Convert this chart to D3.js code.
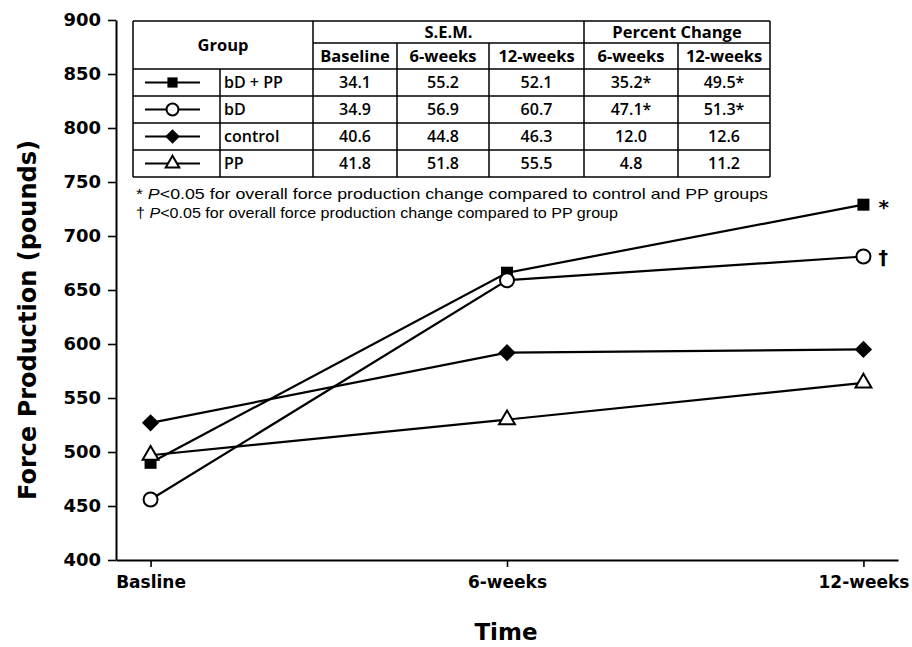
<!DOCTYPE html>
<html>
<head>
<meta charset="utf-8">
<script src="https://cdn.jsdelivr.net/npm/d3@7"></script>
<style>
  body { margin: 0; background: #fff; }
  svg { display: block; }
</style>
</head>
<body>
<svg id="chart" width="912" height="647"></svg>
<script>
//---- Data ---------------------------------------------------------------------------------------
var timepoints = ["Basline", "6-weeks", "12-weeks"];
var groups = ["bD + PP", "bD", "control", "PP"];
var bdpp = [490, 666, 729];
var bd = [456, 659, 681];
var control = [527, 592, 595];
var pp = [497, 530, 564];
var significance = ["*", "\u2020", "", ""];
var yTicks = [400, 450, 500, 550, 600, 650, 700, 750, 800, 850, 900];

// table
var semHeader = "S.E.M.";
var pctHeader = "Percent Change";
var subHeaders = ["Baseline", "6-weeks", "12-weeks", "6-weeks", "12-weeks"];
var semBaseline = ["34.1", "34.9", "40.6", "41.8"];
var sem6 = ["55.2", "56.9", "44.8", "51.8"];
var sem12 = ["52.1", "60.7", "46.3", "55.5"];
var pct6 = ["35.2*", "47.1*", "12.0", "4.8"];
var pct12 = ["49.5*", "51.3*", "12.6", "11.2"];
var footnotes = [
  ["* ", "P", "<0.05 for overall  force production change compared to control and PP groups"],
  ["\u2020 ", "P", "<0.05 for overall force production change compared to PP group"]
];

var series = [bdpp, bd, control, pp];
var markers = ["square", "circle", "diamond", "triangle"];

//---- Setup --------------------------------------------------------------------------------------
var svg = d3.select("#chart");
var axisFont = "'DejaVu Sans', sans-serif";
var tableFont = "'Open Sans', sans-serif";

var x = d3.scalePoint().domain(timepoints).range([116, 898]).padding(0.097);
var y = d3.scaleLinear().domain([400, 900]).range([560, 20]);

// y axis
var yAxis = svg.append("g")
  .attr("transform", "translate(116,0)")
  .call(d3.axisLeft(y).tickValues(yTicks).tickSize(8).tickSizeOuter(0).tickPadding(7));
yAxis.select(".domain").attr("stroke", "#000").attr("stroke-width", 2);
yAxis.selectAll(".tick line").attr("stroke", "#000").attr("stroke-width", 1.6);
yAxis.selectAll(".tick text")
  .attr("font-family", axisFont).attr("font-size", 18).attr("font-weight", "bold")
  .attr("fill", "#000");

// x axis
var xAxis = svg.append("g")
  .attr("transform", "translate(0,560)")
  .call(d3.axisBottom(x).tickSize(7).tickSizeOuter(0).tickPadding(9));
xAxis.select(".domain").attr("stroke", "#000").attr("stroke-width", 2);
xAxis.selectAll(".tick line").attr("stroke", "#000").attr("stroke-width", 1.6);
xAxis.selectAll(".tick text")
  .attr("font-family", axisFont).attr("font-size", 17).attr("font-weight", "bold")
  .attr("fill", "#000");

// axis titles
svg.append("text")
  .attr("transform", "translate(36,320) rotate(-90)")
  .attr("text-anchor", "middle")
  .attr("font-family", axisFont).attr("font-size", 24).attr("font-weight", "bold")
  .text("Force Production (pounds)");

svg.append("text")
  .attr("x", 506).attr("y", 640)
  .attr("text-anchor", "middle")
  .attr("font-family", axisFont).attr("font-size", 23).attr("font-weight", "bold")
  .text("Time");

//---- Markers ------------------------------------------------------------------------------------
function drawMarker(g, kind, cx, cy, scale) {
  scale = scale || 1;
  if (kind == "square") {
    g.append("rect")
      .attr("x", cx - 6 * scale).attr("y", cy - 6 * scale)
      .attr("width", 12 * scale).attr("height", 12 * scale)
      .attr("fill", "#000");
  } else if (kind == "circle") {
    g.append("circle")
      .attr("cx", cx).attr("cy", cy).attr("r", 7 * scale)
      .attr("fill", "#fff").attr("stroke", "#000").attr("stroke-width", 2);
  } else if (kind == "diamond") {
    g.append("path")
      .attr("d", d3.symbol().type(d3.symbolSquare).size(150 * scale * scale)())
      .attr("transform", "translate(" + cx + "," + cy + ") rotate(45)")
      .attr("fill", "#000");
  } else if (kind == "triangle") {
    g.append("path")
      .attr("d", d3.symbol().type(d3.symbolTriangle).size(110 * scale * scale)())
      .attr("transform", "translate(" + cx + "," + cy + ")")
      .attr("fill", "#fff").attr("stroke", "#000").attr("stroke-width", 2);
  }
}

//---- Lines --------------------------------------------------------------------------------------
var line = d3.line()
  .x(function (d, i) { return x(timepoints[i]); })
  .y(function (d) { return y(d); });

var plot = svg.append("g");
series.forEach(function (s) {
  plot.append("path")
    .attr("d", line(s))
    .attr("fill", "none")
    .attr("stroke", "#000")
    .attr("stroke-width", 2.2);
});
series.forEach(function (s, k) {
  s.forEach(function (v, i) {
    drawMarker(plot, markers[k], x(timepoints[i]), y(v));
  });
});

// significance marks at the last point
series.forEach(function (s, k) {
  if (!significance[k]) { return; }
  svg.append("text")
    .attr("x", x(timepoints[2]) + 15)
    .attr("y", y(s[2]) + (k == 0 ? 9 : 7))
    .attr("font-family", axisFont).attr("font-size", k == 0 ? 20 : 19).attr("font-weight", "bold")
    .text(significance[k]);
});

//---- Table --------------------------------------------------------------------------------------
var colX = [133, 220, 313, 397, 489, 584, 678, 770];
var rowY = [21, 43, 69, 96, 123, 150, 177];
var table = svg.append("g");

function hline(x1, x2, yy) {
  table.append("line").attr("x1", x1).attr("x2", x2).attr("y1", yy).attr("y2", yy)
    .attr("stroke", "#000").attr("stroke-width", 1.5);
}
function vline(xx, y1, y2) {
  table.append("line").attr("x1", xx).attr("x2", xx).attr("y1", y1).attr("y2", y2)
    .attr("stroke", "#000").attr("stroke-width", 1.5);
}
function cellText(txt, cx, cy, bold, anchor) {
  return table.append("text")
    .attr("x", cx).attr("y", cy)
    .attr("dy", "0.36em")
    .attr("text-anchor", anchor || "middle")
    .attr("font-family", tableFont).attr("font-size", bold ? 16.5 : 16)
    .attr("font-weight", bold ? 700 : 600)
    .text(txt);
}

table.append("rect")
  .attr("x", colX[0]).attr("y", rowY[0])
  .attr("width", colX[7] - colX[0]).attr("height", rowY[6] - rowY[0])
  .attr("fill", "#fff");

// outer borders and grid
hline(colX[0], colX[7], rowY[0]);
hline(colX[2], colX[7], rowY[1]);
for (var r = 2; r <= 6; r++) { hline(colX[0], colX[7], rowY[r]); }
vline(colX[0], rowY[0], rowY[6]);
vline(colX[7], rowY[0], rowY[6]);
vline(colX[2], rowY[0], rowY[6]);
vline(colX[5], rowY[0], rowY[6]);
vline(colX[1], rowY[2], rowY[6]);
[3, 4, 6].forEach(function (c) { vline(colX[c], rowY[1], rowY[6]); });

// headers
cellText("Group", (colX[0] + colX[2]) / 2, (rowY[0] + rowY[2]) / 2, true);
cellText(semHeader, (colX[2] + colX[5]) / 2, (rowY[0] + rowY[1]) / 2, true);
cellText(pctHeader, (colX[5] + colX[7]) / 2, (rowY[0] + rowY[1]) / 2, true);
subHeaders.forEach(function (h, i) {
  cellText(h, (colX[i + 2] + colX[i + 3]) / 2, (rowY[1] + rowY[2]) / 2, true);
});

// body rows
var columns = [semBaseline, sem6, sem12, pct6, pct12];
groups.forEach(function (gname, k) {
  var cy = (rowY[k + 2] + rowY[k + 3]) / 2;
  table.append("line")
    .attr("x1", colX[0] + 12).attr("x2", colX[1] - 20)
    .attr("y1", cy).attr("y2", cy)
    .attr("stroke", "#000").attr("stroke-width", 2);
  drawMarker(table, markers[k], (colX[0] + colX[1]) / 2 - 4, cy, 0.85);
  cellText(gname, colX[1] + 4, cy, false, "start");
  columns.forEach(function (col, c) {
    cellText(col[k], (colX[c + 2] + colX[c + 3]) / 2, cy, false);
  });
});

//---- Footnotes ----------------------------------------------------------------------------------
var footWidths = [632, 482];
footnotes.forEach(function (f, i) {
  var t = svg.append("text")
    .attr("x", 136).attr("y", 199 + i * 19)
    .attr("font-family", "'Liberation Sans', Arial, sans-serif")
    .attr("font-size", 15)
    .attr("textLength", footWidths[i])
    .attr("lengthAdjust", "spacingAndGlyphs");
  t.append("tspan").text(f[0]);
  t.append("tspan").attr("font-style", "italic").text(f[1]);
  t.append("tspan").text(f[2]);
});
</script>
</body>
</html>
